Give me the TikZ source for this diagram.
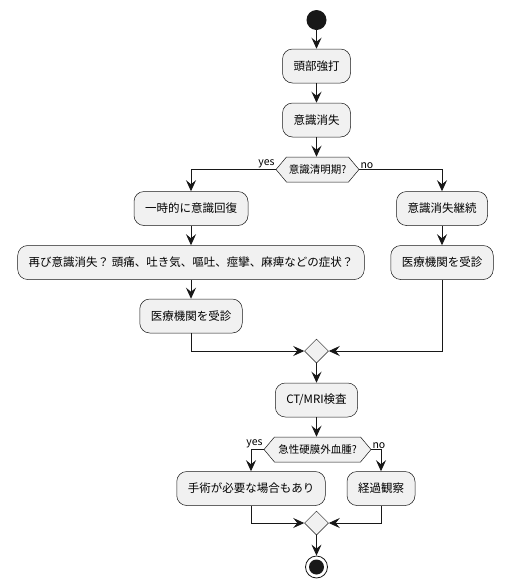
\documentclass[tikz,border=0pt]{standalone}
\usepackage{fontspec}
\setmainfont{Noto Sans CJK JP}
\usetikzlibrary{arrows.meta,shapes.geometric,shapes.symbols}
\definecolor{fillc}{HTML}{F1F1F1}
\definecolor{linec}{HTML}{181818}
\tikzset{
  act/.style={draw=linec, line width=0.5pt, fill=fillc, rounded corners=10pt,
    minimum height=34pt, inner xsep=11pt, inner ysep=0pt,
    font=\fontsize{11.5}{14}\selectfont},
  hexa/.style={draw=linec, line width=0.5pt, fill=fillc, shape=signal,
    signal to=west and east, signal pointer angle=100, minimum height=25pt,
    inner xsep=0pt, inner ysep=0pt, font=\fontsize{10.5}{13}\selectfont},
  merge/.style={draw=linec, line width=0.5pt, fill=fillc, shape=diamond,
    minimum width=24pt, minimum height=24pt, inner sep=0pt},
  arr/.style={draw=linec, line width=1pt,
    -{Stealth[length=11pt,width=10pt,inset=4pt]}},
  lbl/.style={font=\fontsize{10.5}{12}\selectfont, inner sep=1pt}
}
\begin{document}
\begin{tikzpicture}[x=1pt,y=-1pt]
\useasboundingbox (0,0) rectangle (504,587);
\node[circle, fill=linec, minimum size=20pt, inner sep=0pt] (start) at (316.5,20) {};
\node[act] (a1) at (316.5,66) {頭部強打};
\node[act] (a2) at (316.5,120) {意識消失};
\node[hexa, minimum width=83pt] (d1) at (317.5,169.5) {意識清明期?};
\node[act] (b1) at (191,208.5) {一時的に意識回復};
\node[act] (c1) at (442,208.5) {意識消失継続};
\node[act] (b2) at (191,262.5) {再び意識消失？ 頭痛、吐き気、嘔吐、痙攣、麻痺などの症状？};
\node[act] (c2) at (442,262.5) {医療機関を受診};
\node[act] (b3) at (191,316) {医療機関を受診};
\node[merge] (m1) at (316.5,351) {};
\node[act] (ct) at (316.5,400) {CT/MRI検査};
\node[hexa, minimum width=107pt] (d2) at (317.5,449.5) {急性硬膜外血腫?};
\node[act] (e1) at (251,488.5) {手術が必要な場合もあり};
\node[act] (e2) at (381,488.5) {経過観察};
\node[merge] (m2) at (316.5,523) {};
\node[circle, draw=linec, line width=0.8pt, fill=white, minimum size=22pt, inner sep=0pt] (stop) at (316.5,567) {};
\fill[linec] (stop.center) circle (7.5pt);

\draw[arr] (start) -- (a1);
\draw[arr] (a1) -- (a2);
\draw[arr] (a2) -- (a2 |- d1.north);
\draw[arr] (d1.west) -| (b1.north);
\draw[arr] (d1.east) -| (c1.north);
\node[lbl, anchor=south east] (y1) at (d1.west) {yes};
\node[lbl, anchor=south west] (n1) at (d1.east) {no};
\draw[arr] (b1) -- (b2);
\draw[arr] (b2) -- (b3);
\draw[arr] (c1) -- (c2);
\draw[arr] (b3.south) |- (m1.west);
\draw[arr] (c2.south) |- (m1.east);
\draw[arr] (m1) -- (ct);
\draw[arr] (ct) -- (ct |- d2.north);
\draw[arr] (d2.west) -| (e1.north);
\draw[arr] (d2.east) -| (e2.north);
\node[lbl, anchor=south east] (y2) at (d2.west) {yes};
\node[lbl, anchor=south west] (n2) at (d2.east) {no};
\draw[arr] (e1.south) |- (m2.west);
\draw[arr] (e2.south) |- (m2.east);
\draw[arr] (m2) -- (stop);
\end{tikzpicture}
\end{document}
